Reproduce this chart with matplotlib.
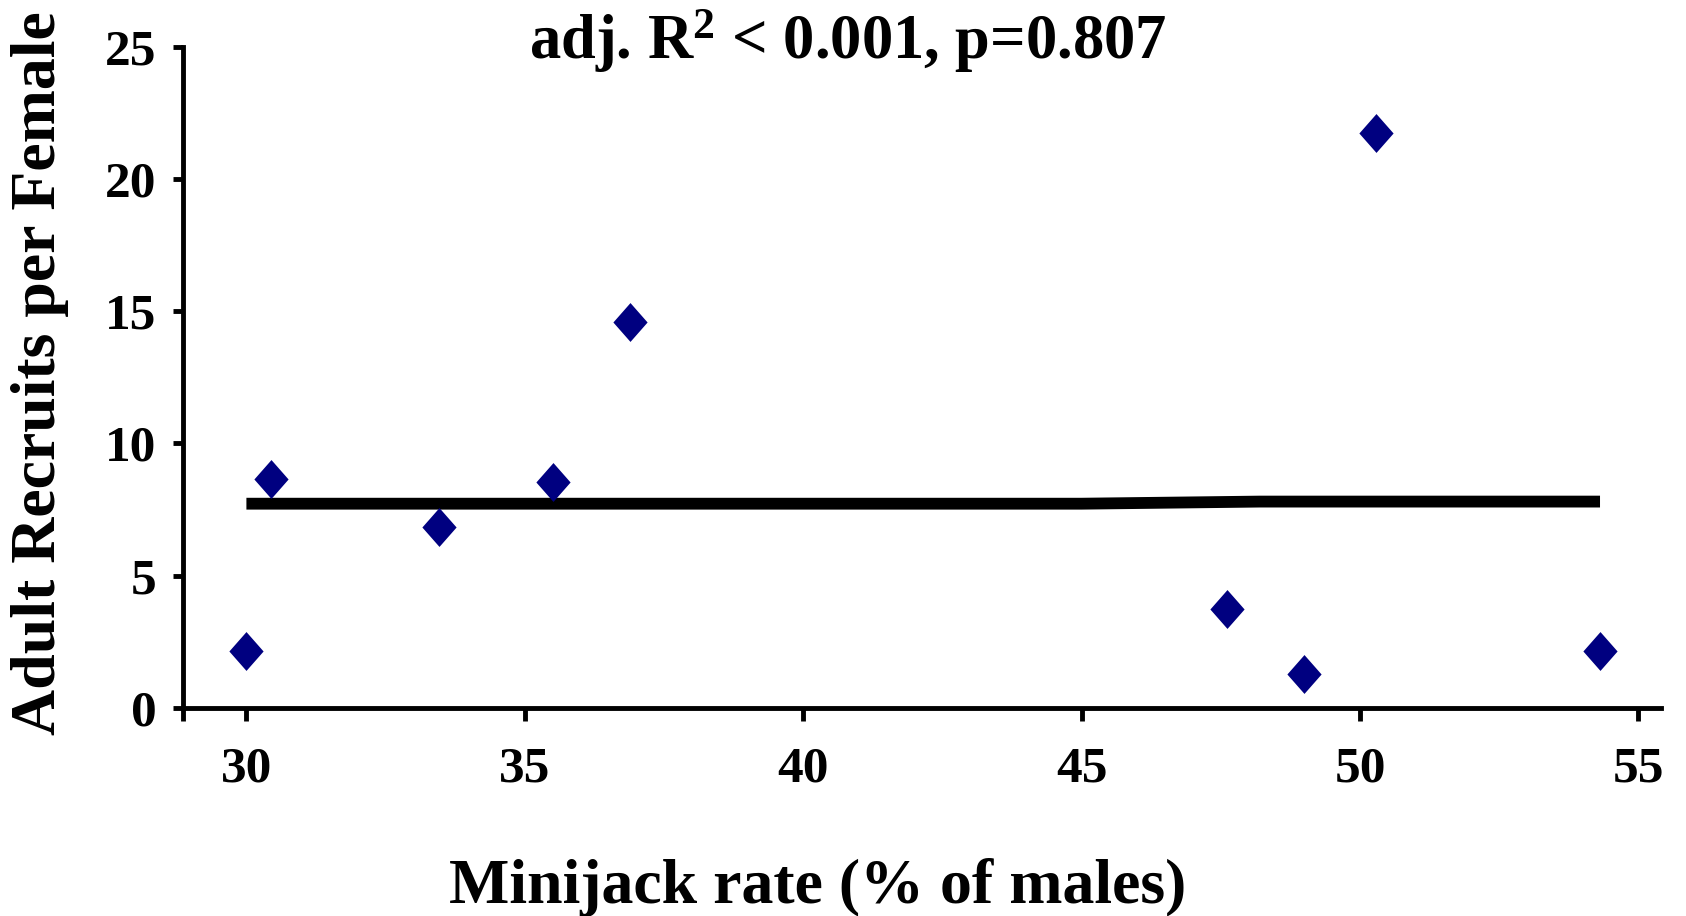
import numpy as np
import matplotlib
matplotlib.use("Agg")
import matplotlib.pyplot as plt

# Daten
minijack_rate = [30.0, 30.44, 33.46, 35.50, 36.89, 47.61, 49.0, 50.29, 54.31]
recruits = [2.16, 8.67, 6.84, 8.55, 14.58, 3.75, 1.26, 21.74, 2.16]

fit_x = [30.0, 45.0, 48.2, 54.31]
fit_y = [7.72, 7.72, 7.80, 7.80]

x_ticks = [30, 35, 40, 45, 50, 55]
y_ticks = [0, 5, 10, 15, 20, 25]

plt.rcParams['font.family'] = ['Liberation Serif', 'DejaVu Serif']
plt.rcParams['font.weight'] = 'bold'
plt.rcParams['mathtext.fontset'] = 'custom'
plt.rcParams['mathtext.rm'] = 'Liberation Serif:bold'
plt.rcParams['mathtext.default'] = 'rm'

fig = plt.figure(figsize=(16.86, 9.16), dpi=100)
ax = fig.add_axes([0.1085, 0.2275, 0.8765, 0.7209])

# Raute etwas hoeher als breit
raute = [(0, 1), (0.88, 0), (0, -1), (-0.88, 0), (0, 1)]
ax.plot(minijack_rate, recruits, linestyle='none', marker=raute, markersize=28,
        color='#000080', markeredgewidth=0, zorder=3)
ax.plot(fit_x, fit_y, color='black', linewidth=8.5, solid_capstyle='butt', zorder=2)

ax.set_xlim(28.86, 55.4)
ax.set_ylim(0, 25)
ax.set_xticks(x_ticks)
ax.set_yticks(y_ticks)
ax.set_xticks([28.86], minor=True)

for s in ['top', 'right']:
    ax.spines[s].set_visible(False)
for s in ['left', 'bottom']:
    ax.spines[s].set_linewidth(3.5)

ax.tick_params(axis='x', which='both', direction='out', length=9, width=3.5, pad=19, labelsize=37)
ax.tick_params(axis='y', direction='out', length=7, width=3.5, pad=12, labelsize=37)
for lab in ax.get_xticklabels() + ax.get_yticklabels():
    lab.set_fontweight('bold')

fig.text(0.503, 0.9356, 'adj. R$^2$ < 0.001, p=0.807', ha='center', va='baseline',
         fontsize=45, fontweight='bold')
fig.text(0.485, 0.014, 'Minijack rate (% of males)', ha='center', va='baseline',
         fontsize=46, fontweight='bold')
fig.text(0.024, 0.593, 'Adult Recruits per Female', ha='center', va='center', rotation=90,
         fontsize=46, fontweight='bold')

fig.savefig('out.png', dpi=100)
